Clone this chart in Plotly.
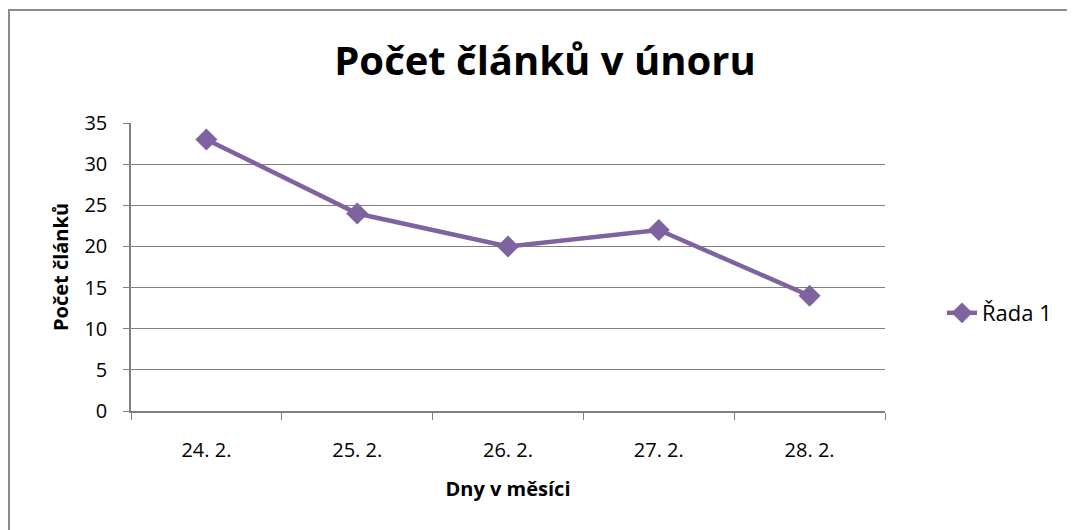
import plotly.graph_objects as go

categories = ["24. 2.", "25. 2.", "26. 2.", "27. 2.", "28. 2."]
values = [33, 24, 20, 22, 14]
series_name = "Řada 1"
title_text = "Počet článků v únoru"
x_title = "Dny v měsíci"
y_title = "Počet článků"

W, H = 1075, 530
OFF = 8  # page body margin offset
L, R, T, B = 131 - OFF, 885 - OFF, 123 - OFF, 411 - OFF
pw, ph = R - L, B - T

def px_x(p):
    return (p - OFF - L) / pw

def px_y(p):
    return (B - (p - OFF)) / ph

font = "Open Sans, Noto Sans, sans-serif"
grid = "#808080"
purple = "#7F63A1"

fig = go.Figure()
fig.add_trace(go.Scatter(
    x=categories, y=values, name=series_name, mode="lines+markers",
    line=dict(color=purple, width=4.5),
    marker=dict(symbol="diamond", size=17, color=purple),
))

fig.update_layout(
    width=W, height=H,
    margin=dict(l=L, r=W - R, t=T, b=H - B, autoexpand=False),
    paper_bgcolor="white", plot_bgcolor="white",
    font=dict(family=font, color="black"),
    title=dict(text="<b>" + title_text + "</b>", x=(545 - OFF) / W, xref="container",
               xanchor="center", y=1 - (61 - OFF) / H, yref="container", yanchor="middle",
               font=dict(size=40, family=font, color="black")),
    showlegend=True,
    legend=dict(x=px_x(942), y=px_y(313), xanchor="left", yanchor="middle",
                font=dict(size=22, family=font), bgcolor="rgba(0,0,0,0)"),
    xaxis=dict(
        type="category", tickson="boundaries", ticks="outside", ticklen=7,
        tickcolor=grid, showline=True, linecolor=grid, linewidth=1.5,
        showgrid=False, range=[-0.5, 4.5], ticklabelstandoff=20,
        tickfont=dict(size=20, family=font), automargin=False,
        title=dict(text="<b>" + x_title + "</b>", font=dict(size=20, family=font), standoff=20),
    ),
    yaxis=dict(
        range=[0, 35], dtick=5, ticks="outside", ticklen=6, tickcolor=grid,
        showline=True, linecolor=grid, linewidth=1.5, showgrid=True,
        gridcolor=grid, gridwidth=1.4, zeroline=False, automargin=False,
        tickfont=dict(size=20, family=font), ticklabelstandoff=12,
        title=dict(text="<b>" + y_title + "</b>", font=dict(size=20, family=font), standoff=10),
    ),
    shapes=[dict(type="rect", xref="paper", yref="paper",
                 x0=px_x(9), x1=px_x(1095), y0=px_y(560), y1=px_y(10),
                 line=dict(color="#8C8C8C", width=2), layer="below")],
)

fig.write_html("out.html")
